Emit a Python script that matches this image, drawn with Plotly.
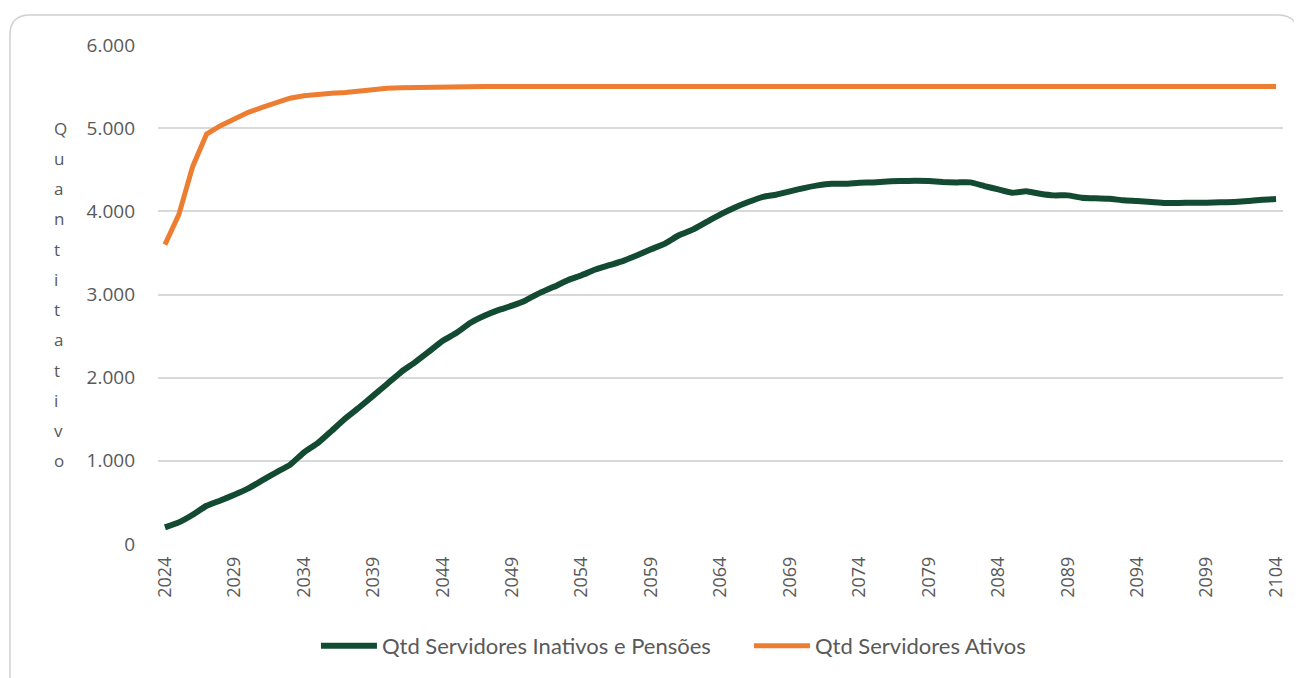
import plotly.graph_objects as go

anos = list(range(2024, 2105))

inativos = [
    200, 260, 352, 460, 524, 592, 668, 764, 860, 952,
    1100, 1212, 1360, 1512, 1644, 1784, 1924, 2068, 2184, 2312,
    2444, 2540, 2660, 2744, 2812, 2866, 2932, 3020, 3092, 3172,
    3232, 3300, 3352, 3404, 3472, 3544, 3612, 3712, 3780, 3872,
    3964, 4044, 4112, 4172, 4200, 4240, 4280, 4312, 4332, 4332,
    4344, 4348, 4360, 4364, 4368, 4364, 4352, 4348, 4348, 4304,
    4264, 4224, 4240, 4212, 4192, 4192, 4164, 4156, 4152, 4132,
    4124, 4112, 4100, 4100, 4104, 4104, 4108, 4112, 4124, 4140,
    4148,
]

ativos = [
    3600, 3960, 4540, 4930, 5030, 5110, 5190, 5250, 5310, 5360,
    5390, 5410, 5420, 5430, 5450, 5470, 5480, 5485, 5490, 5495,
] + [5500] * 61

y_ticks = [0, 1000, 2000, 3000, 4000, 5000, 6000]
y_labels = ["0", "1.000", "2.000", "3.000", "4.000", "5.000", "6.000"]
titulo_eixo = "Quantitativo"

cinza = "#595959"

fig = go.Figure()

fig.add_trace(go.Scatter(
    x=anos, y=inativos,
    mode="lines",
    name="Qtd Servidores Inativos e Pensões",
    line=dict(color="#134a32", width=6, shape="spline", smoothing=0.4),
))

fig.add_trace(go.Scatter(
    x=anos, y=ativos,
    mode="lines",
    name="Qtd Servidores Ativos",
    line=dict(color="#ed7d31", width=5),
))

fig.update_layout(
    width=1294,
    height=670,
    margin=dict(l=150, r=19, t=37, b=133),
    paper_bgcolor="white",
    plot_bgcolor="white",
    font=dict(family="Open Sans", color=cinza),
    showlegend=True,
    legend=dict(
        orientation="h",
        x=0.1404, xanchor="left",
        y=-0.202, yanchor="middle",
        font=dict(family="Lato", size=22, color=cinza),
        itemwidth=56,
        entrywidth=362,
    ),
    xaxis=dict(
        range=[2023.5, 2104.5],
        tickmode="linear", tick0=2024, dtick=5,
        tickangle=-90,
        tickfont=dict(size=18, color=cinza),
        showgrid=False,
        zeroline=False,
        showline=False,
        ticks="",
        ticklabelstandoff=8,
    ),
    yaxis=dict(
        range=[0, 6000],
        tickvals=y_ticks,
        ticktext=y_labels,
        tickfont=dict(size=19, color=cinza),
        showgrid=True,
        gridcolor="#d9d9d9",
        gridwidth=1.5,
        zeroline=False,
        showline=False,
        ticks="",
        ticklabelstandoff=22,
    ),
)

# titulo do eixo y, uma letra por linha (de 5.000 ate 1.000)
for i, letra in enumerate(titulo_eixo):
    fig.add_annotation(
        text=letra,
        xref="paper", yref="y",
        x=-0.0942, y=5000 - i * 4000 / (len(titulo_eixo) - 1),
        showarrow=False,
        font=dict(family="Open Sans", size=17, color=cinza),
    )

# moldura arredondada do grafico
x0, x1 = -0.1316, 1.0133
y0, y1 = -0.3, 1.06
rx, ry = 0.0178, 0.04
moldura = (
    f"M {x0},{y1 - ry} Q {x0},{y1} {x0 + rx},{y1} "
    f"L {x1 - rx},{y1} Q {x1},{y1} {x1},{y1 - ry} "
    f"L {x1},{y0} L {x0},{y0} Z"
)
fig.add_shape(
    type="path", path=moldura,
    xref="paper", yref="paper",
    line=dict(color="#d0d0d0", width=1.5),
    layer="below",
)

fig.write_html("out.html")
